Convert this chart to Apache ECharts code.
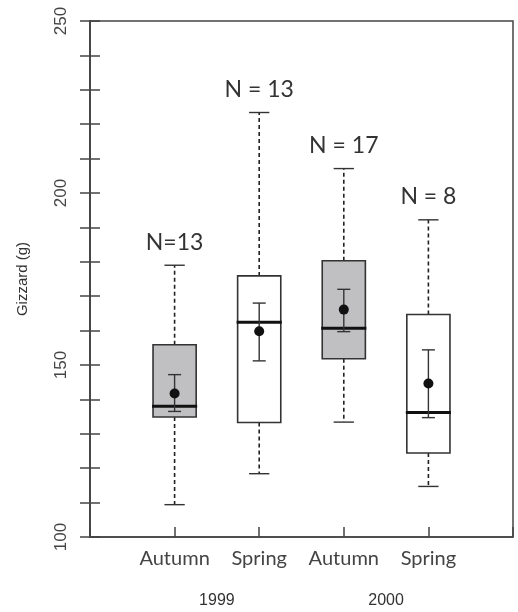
<!DOCTYPE html>
<html>
<head>
<meta charset="utf-8">
<script src="https://cdn.jsdelivr.net/npm/echarts@6/dist/echarts.min.js"></script>
<style>
html,body{margin:0;padding:0;background:#fff;}
#chart{width:518px;height:612px;}
</style>
</head>
<body>
<div id="chart"></div>
<script>
// ---- data ----
var categories = ['Autumn', 'Spring', 'Autumn', 'Spring'];
var years = ['1999', '2000'];
var nLabels = ['N=13', 'N = 13', 'N = 17', 'N = 8'];
var whiskerLow = [109.4, 118.4, 133.4, 114.7];
var q1 = [134.9, 133.3, 151.8, 124.4];
var median = [138.0, 162.4, 160.7, 136.2];
var q3 = [155.9, 175.9, 180.3, 164.7];
var whiskerHigh = [179.0, 223.4, 207.1, 192.2];
var mean = [141.7, 159.8, 166.1, 144.6];
var errLow = [136.5, 151.2, 159.7, 134.7];
var errHigh = [147.2, 168.0, 172.0, 154.4];
var yTicks = [100, 150, 200, 250];

var seriesData = categories.map(function (c, i) {
  return [i + 1, whiskerLow[i], q1[i], median[i], q3[i], whiskerHigh[i], mean[i], errLow[i], errHigh[i]];
});

var chart = echarts.init(document.getElementById('chart'), null, {renderer: 'canvas'});

var lineCol = '#333';
var axisCol = '#444';

function renderItem(params, api) {
  var i = params.dataIndex;
  var x = api.value(0);
  function P(v) { return api.coord([x, v]); }
  var cx = P(api.value(3))[0];
  var halfBox = api.size([0.255, 0])[0];
  var halfCap = api.size([0.12, 0])[0];
  var halfErr = api.size([0.077, 0])[0];
  var yWL = P(api.value(1))[1], yQ1 = P(api.value(2))[1], yMed = P(api.value(3))[1],
      yQ3 = P(api.value(4))[1], yWH = P(api.value(5))[1], yMean = P(api.value(6))[1],
      yEL = P(api.value(7))[1], yEH = P(api.value(8))[1];
  var fill = categories[i] === 'Autumn' ? '#c0c0c2' : '#ffffff';
  var dashStyle = {stroke: '#222', lineWidth: 1.6, lineDash: [4, 3]};
  var solid = {stroke: lineCol, lineWidth: 1.4};
  return {
    type: 'group',
    children: [
      {type: 'line', shape: {x1: cx, y1: yQ3, x2: cx, y2: yWH}, style: dashStyle},
      {type: 'line', shape: {x1: cx, y1: yQ1, x2: cx, y2: yWL}, style: dashStyle},
      {type: 'line', shape: {x1: cx - halfCap, y1: yWH, x2: cx + halfCap, y2: yWH}, style: solid},
      {type: 'line', shape: {x1: cx - halfCap, y1: yWL, x2: cx + halfCap, y2: yWL}, style: solid},
      {type: 'rect', shape: {x: cx - halfBox, y: yQ3, width: halfBox * 2, height: yQ1 - yQ3},
        style: {fill: fill, stroke: lineCol, lineWidth: 1.6}},
      {type: 'line', shape: {x1: cx - halfBox - 1, y1: yMed, x2: cx + halfBox + 1, y2: yMed},
        style: {stroke: '#111', lineWidth: 3}},
      {type: 'line', shape: {x1: cx, y1: yEL, x2: cx, y2: yEH}, style: solid},
      {type: 'line', shape: {x1: cx - halfErr, y1: yEH, x2: cx + halfErr, y2: yEH}, style: solid},
      {type: 'line', shape: {x1: cx - halfErr, y1: yEL, x2: cx + halfErr, y2: yEL}, style: solid},
      {type: 'circle', shape: {cx: cx, cy: yMean, r: 5}, style: {fill: '#111'}},
      {type: 'text', style: {text: nLabels[i], x: cx, y: yWH - 23, align: 'center', verticalAlign: 'middle',
        fontSize: 23, fontFamily: 'Lato', fill: '#333'}}
    ]
  };
}

var option = {
  animation: false,
  backgroundColor: '#fff',
  grid: {left: 90, top: 21, right: 5, bottom: 75, show: true, borderColor: axisCol, borderWidth: 1.5, backgroundColor: 'transparent'},
  xAxis: [{
    type: 'value', min: 0, max: 5, interval: 1,
    axisLine: {show: true, lineStyle: {color: axisCol, width: 1.5}},
    axisTick: {show: true, inside: true, length: 10, lineStyle: {color: axisCol, width: 1.5}},
    splitLine: {show: false},
    axisLabel: {
      margin: 12, fontSize: 20, fontFamily: 'Lato', color: '#444',
      formatter: function (v) { return (v >= 1 && v <= categories.length) ? categories[v - 1] : ''; }
    }
  }, {
    type: 'value', min: 0, max: 5, interval: 0.5, position: 'bottom',
    axisLine: {show: false}, axisTick: {show: false}, splitLine: {show: false},
    axisLabel: {
      margin: 56, fontSize: 16, fontFamily: 'Liberation Sans', color: '#333',
      formatter: function (v) {
        if (Math.abs(v - 1.5) < 1e-6) return years[0];
        if (Math.abs(v - 3.5) < 1e-6) return years[1];
        return '';
      }
    }
  }],
  yAxis: [{
    type: 'value', min: 100, max: 250, interval: 10, position: 'left',
    name: 'Gizzard (g)', nameLocation: 'middle', nameGap: 60,
    nameTextStyle: {fontSize: 15, fontFamily: 'Liberation Sans', color: '#333'},
    axisLine: {show: true, lineStyle: {color: axisCol, width: 1.5}},
    axisTick: {show: true, inside: true, length: 10, lineStyle: {color: axisCol, width: 1.5}},
    splitLine: {show: false},
    axisLabel: {
      margin: 20, rotate: 90, fontSize: 17, fontFamily: 'Liberation Sans', color: '#444',
      formatter: function (v) { return yTicks.indexOf(v) >= 0 ? String(v) : ''; }
    }
  }, {
    type: 'value', min: 100, max: 250, interval: 10, position: 'right',
    axisLine: {show: true, lineStyle: {color: axisCol, width: 1.5}},
    axisTick: {show: true, inside: true, length: 10, lineStyle: {color: axisCol, width: 1.5}},
    splitLine: {show: false},
    axisLabel: {show: false}
  }],
  series: [{
    type: 'custom',
    xAxisIndex: 0, yAxisIndex: 0,
    renderItem: renderItem,
    encode: {x: 0, y: [1, 2, 3, 4, 5, 6, 7, 8]},
    data: seriesData,
    clip: false
  }]
};
chart.setOption(option);
</script>
</body>
</html>
